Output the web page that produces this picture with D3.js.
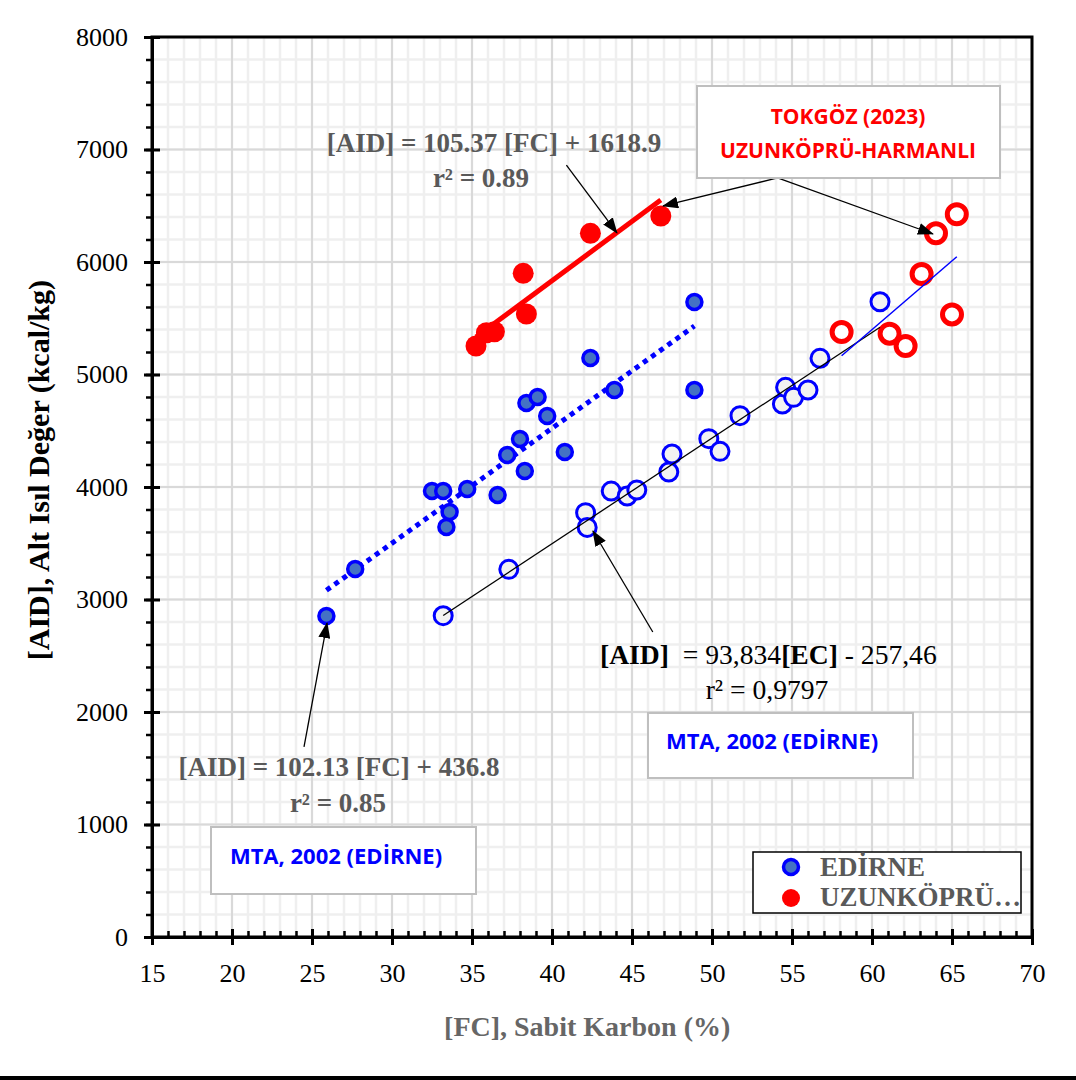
<!DOCTYPE html>
<html>
<head>
<meta charset="utf-8">
<script src="https://cdn.jsdelivr.net/npm/d3@7"></script>
<style>
  body { margin: 0; background: #fff; }
  svg { display: block; }
</style>
</head>
<body>
<svg id="chart" width="1076" height="1080"></svg>
<script>
// Edirne (MTA 2002) - AID vs fixed carbon (filled) and vs EC (hollow)
const edirneFC  = [25.9, 27.7, 32.5, 33.2, 33.6, 33.4, 34.7, 36.6, 37.2, 38.0, 38.3, 38.4, 39.1, 39.7, 40.8, 42.4, 43.9, 48.9, 48.9];
const edirneAID = [2853, 3271, 3964, 3964, 3778, 3644, 3982, 3929, 4284, 4427, 4142, 4747, 4800, 4631, 4311, 5147, 4862, 5644, 4862];
const edirneEC    = [33.2, 37.3, 42.1, 42.2, 43.7, 44.7, 45.3, 47.3, 47.5, 49.8, 50.5, 51.75, 54.4, 54.6, 55.1, 56.0, 56.75, 60.5];
const edirneEcAID = [2856, 3268, 3772, 3641, 3964, 3920, 3973, 4133, 4293, 4430, 4317, 4634, 4738, 4886, 4797, 4862, 5144, 5647];

// Uzunköprü-Harmanlı (Tokgöz 2023)
const uzunFC  = [35.25, 35.9, 36.4, 38.2, 38.4, 42.4, 46.8];
const uzunAID = [5253, 5371, 5380, 5899, 5538, 6255, 6409];
const uzunEC    = [65.3, 64.0, 63.1, 65.0, 58.1, 61.1, 62.1];
const uzunEcAID = [6424, 6255, 5893, 5534, 5378, 5363, 5253];

// trend lines: slope, intercept, x range
const fitEdirneFC = [102.13, 436.8, 25.9, 48.9];
const fitUzunFC   = [105.37, 1618.9, 35.25, 46.8];
const fitEdirneEC = [93.834, -257.46, 33.2, 60.5];
const fitUzunEC   = [122.2, -1933, 58.1, 65.3];

const xTicks = d3.range(15, 71, 5);
const yTicks = d3.range(0, 8001, 1000);

// arrows in data units [x1, y1, x2(tip), y2(tip)]
const arrows = [
  [40.9, 6862, 44.06, 6258],
  [54.1, 6747, 46.94, 6498],
  [54.1, 6747, 63.81, 6249],
  [46.3, 2711, 42.56, 3609],
  [24.5, 1689, 25.94, 2791]
];

const svg = d3.select("#chart");
const serif = "'Liberation Serif', 'Times New Roman', serif";
const sans = "'Open Sans', 'Noto Sans', sans-serif";

const x = d3.scaleLinear().domain([15, 70]).range([152, 1032]);
const y = d3.scaleLinear().domain([0, 8000]).range([937, 37]);

svg.append("defs").append("marker")
  .attr("id", "arrow")
  .attr("markerUnits", "userSpaceOnUse")
  .attr("markerWidth", 16).attr("markerHeight", 12)
  .attr("refX", 15).attr("refY", 6)
  .attr("orient", "auto")
  .append("path").attr("d", "M0,0 L16,6 L0,12 Z").attr("fill", "#000");

// grid
const grid = svg.append("g");
grid.selectAll(".vmin").data(d3.range(15, 71, 1)).enter().append("line")
  .attr("x1", d => x(d)).attr("x2", d => x(d)).attr("y1", y(0)).attr("y2", y(8000))
  .attr("stroke", "#efefef").attr("stroke-width", 2.5);
grid.selectAll(".hmin").data(d3.range(0, 8001, 200)).enter().append("line")
  .attr("y1", d => y(d)).attr("y2", d => y(d)).attr("x1", x(15)).attr("x2", x(70))
  .attr("stroke", "#efefef").attr("stroke-width", 2.5);
grid.selectAll(".vmaj").data(xTicks).enter().append("line")
  .attr("x1", d => x(d)).attr("x2", d => x(d)).attr("y1", y(0)).attr("y2", y(8000))
  .attr("stroke", "#d9d9d9").attr("stroke-width", 2);
grid.selectAll(".hmaj").data(yTicks).enter().append("line")
  .attr("y1", d => y(d)).attr("y2", d => y(d)).attr("x1", x(15)).attr("x2", x(70))
  .attr("stroke", "#d9d9d9").attr("stroke-width", 2);

// frame
svg.append("rect").attr("x", x(15)).attr("y", y(8000))
  .attr("width", x(70) - x(15)).attr("height", y(0) - y(8000))
  .attr("fill", "none").attr("stroke", "#000").attr("stroke-width", 3);

// axes
const xAxis = svg.append("g").attr("transform", `translate(0,${y(0)})`)
  .call(d3.axisBottom(x).tickValues(xTicks).tickSizeInner(8).tickSizeOuter(0).tickPadding(19));
xAxis.select(".domain").attr("stroke-width", 3);
xAxis.selectAll(".tick line").attr("y1", -8).attr("stroke-width", 3);
xAxis.selectAll("text").attr("font-family", serif).attr("font-size", 26).attr("fill", "#000");

const xMinor = svg.append("g").attr("transform", `translate(0,${y(0)})`)
  .call(d3.axisBottom(x).tickValues(d3.range(15, 71, 1)).tickSize(-6).tickFormat(""));
xMinor.select(".domain").remove();
xMinor.selectAll("line").attr("stroke-width", 2.5);

const yAxis = svg.append("g").attr("transform", `translate(${x(15)},0)`)
  .call(d3.axisLeft(y).tickValues(yTicks).tickFormat(d3.format("d"))
    .tickSizeInner(8).tickSizeOuter(0).tickPadding(16));
yAxis.select(".domain").attr("stroke-width", 3);
yAxis.selectAll(".tick line").attr("x1", 8).attr("stroke-width", 3);
yAxis.selectAll("text").attr("font-family", serif).attr("font-size", 26).attr("fill", "#000");

const yMinor = svg.append("g").attr("transform", `translate(${x(15)},0)`)
  .call(d3.axisLeft(y).tickValues(d3.range(0, 8001, 200)).tickSize(6).tickFormat(""));
yMinor.select(".domain").remove();
yMinor.selectAll("line").attr("stroke-width", 2.5);

// axis titles
svg.append("text")
  .attr("transform", `translate(49,${y(4150)}) rotate(-90)`)
  .attr("text-anchor", "middle")
  .attr("font-family", serif).attr("font-weight", "bold").attr("font-size", 30)
  .attr("fill", "#000")
  .text("[AID], Alt Isıl Değer (kcal/kg)");

svg.append("text")
  .attr("x", x(42.2)).attr("y", 1036)
  .attr("text-anchor", "middle")
  .attr("font-family", serif).attr("font-weight", "bold").attr("font-size", 28)
  .attr("fill", "#666")
  .text("[FC], Sabit Karbon (%)");

// trend lines
function fitLine(f) {
  return [[f[2], f[0] * f[2] + f[1]], [f[3], f[0] * f[3] + f[1]]];
}
const line = d3.line().x(d => x(d[0])).y(d => y(d[1]));

svg.append("path").attr("d", line(fitLine(fitEdirneFC)))
  .attr("stroke", "#0000ff").attr("stroke-width", 5).attr("stroke-dasharray", "5,5")
  .attr("fill", "none");
svg.append("path").attr("d", line(fitLine(fitUzunFC)))
  .attr("stroke", "#ff0000").attr("stroke-width", 5).attr("fill", "none");

// filled markers
const edirneFilled = edirneFC.map((v, i) => [v, edirneAID[i]]);
const uzunFilled = uzunFC.map((v, i) => [v, uzunAID[i]]);
svg.append("g").selectAll("circle").data(edirneFilled).enter().append("circle")
  .attr("cx", d => x(d[0])).attr("cy", d => y(d[1])).attr("r", 7.5)
  .attr("fill", "#4472c4").attr("stroke", "#0000ff").attr("stroke-width", 3.5);
svg.append("g").selectAll("circle").data(uzunFilled).enter().append("circle")
  .attr("cx", d => x(d[0])).attr("cy", d => y(d[1])).attr("r", 10.5)
  .attr("fill", "#ff0000");

// hollow markers (EC)
const edirneHollow = edirneEC.map((v, i) => [v, edirneEcAID[i]]);
const uzunHollow = uzunEC.map((v, i) => [v, uzunEcAID[i]]);
svg.append("g").selectAll("circle").data(edirneHollow).enter().append("circle")
  .attr("cx", d => x(d[0])).attr("cy", d => y(d[1])).attr("r", 9)
  .attr("fill", "#f2f2f2").attr("stroke", "#0000ff").attr("stroke-width", 3);
svg.append("g").selectAll("circle").data(uzunHollow).enter().append("circle")
  .attr("cx", d => x(d[0])).attr("cy", d => y(d[1])).attr("r", 9.5)
  .attr("fill", "#fff").attr("stroke", "#ff0000").attr("stroke-width", 5);

svg.append("path").attr("d", line(fitLine(fitEdirneEC)))
  .attr("stroke", "#000").attr("stroke-width", 1.3).attr("fill", "none");
svg.append("path").attr("d", line(fitLine(fitUzunEC)))
  .attr("stroke", "#0000ff").attr("stroke-width", 1.5).attr("fill", "none");

// arrows
svg.append("g").selectAll("line").data(arrows).enter().append("line")
  .attr("x1", d => x(d[0])).attr("y1", d => y(d[1]))
  .attr("x2", d => x(d[2])).attr("y2", d => y(d[3]))
  .attr("stroke", "#000").attr("stroke-width", 1.3)
  .attr("marker-end", "url(#arrow)");

// annotation text
function addText(tx, ty, str, opts) {
  return svg.append("text").attr("x", tx).attr("y", ty)
    .attr("text-anchor", opts.anchor || "middle")
    .attr("font-family", opts.family || serif)
    .attr("font-weight", opts.weight || "bold")
    .attr("font-size", opts.size || 27)
    .attr("fill", opts.fill || "#595959")
    .text(str);
}
addText(494, 152, "[AID] = 105.37 [FC] + 1618.9", {});
addText(481, 187, "r² = 0.89", {});
addText(339, 776, "[AID] = 102.13 [FC] + 436.8", {});
addText(338, 812, "r² = 0.85", {});

const eq = svg.append("text").attr("x", 600).attr("y", 664)
  .attr("font-family", serif).attr("font-size", 27.6).attr("fill", "#000");
eq.append("tspan").attr("font-weight", "bold").text("[AID]");
eq.append("tspan").text("\u00a0 = 93,834");
eq.append("tspan").attr("font-weight", "bold").text("[EC]");
eq.append("tspan").text(" - 257,46");
addText(767, 699, "r² = 0,9797", { weight: "normal", fill: "#000", size: 27.6 });

// boxes
function addBox(bx, by, bw, bh) {
  svg.append("rect").attr("x", bx).attr("y", by).attr("width", bw).attr("height", bh)
    .attr("fill", "#fff").attr("stroke", "#bfbfbf").attr("stroke-width", 2);
}
addBox(697, 86, 303, 92);
addText(848, 124, "TOKGÖZ (2023)", { family: sans, size: 21, fill: "#ff0000" });
addText(848, 158, "UZUNKÖPRÜ-HARMANLI", { family: sans, size: 21, fill: "#ff0000" });

addBox(648, 713, 265, 65);
addText(772, 749, "MTA, 2002 (EDİRNE)", { family: sans, size: 22, fill: "#0000ff" });

addBox(211, 827, 265, 67);
addText(336, 864, "MTA, 2002 (EDİRNE)", { family: sans, size: 22, fill: "#0000ff" });

// legend
svg.append("rect").attr("x", 753).attr("y", 852).attr("width", 268).attr("height", 61)
  .attr("fill", "#fff").attr("stroke", "#000").attr("stroke-width", 1.5);
svg.append("circle").attr("cx", 791).attr("cy", 867).attr("r", 7.5)
  .attr("fill", "#4472c4").attr("stroke", "#0000ff").attr("stroke-width", 3.5);
svg.append("circle").attr("cx", 791).attr("cy", 898).attr("r", 9)
  .attr("fill", "#ff0000");
addText(820, 876, "EDİRNE", { anchor: "start" });
addText(820, 906, "UZUNKÖPRÜ…", { anchor: "start" });

// bottom rule
svg.append("line").attr("x1", 0).attr("x2", 1076).attr("y1", 1078).attr("y2", 1078)
  .attr("stroke", "#000").attr("stroke-width", 4);
</script>
</body>
</html>
